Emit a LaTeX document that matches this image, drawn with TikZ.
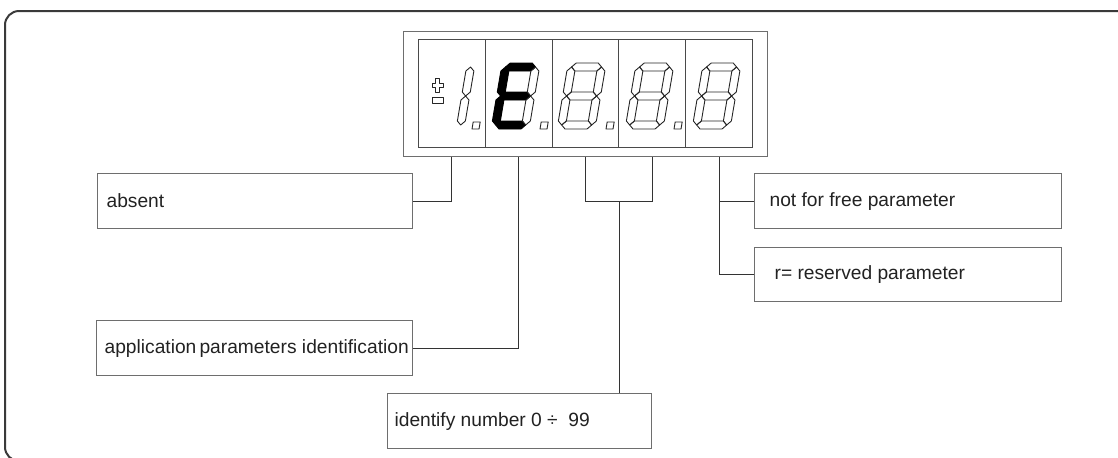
\documentclass[tikz,border=0pt]{standalone}
\usepackage{fontspec}
\setmainfont{Liberation Sans}
\definecolor{framegray}{HTML}{3A3A3A}
\definecolor{boxgray}{HTML}{6E6E6E}
\definecolor{cellgray}{HTML}{4A4A4A}
\definecolor{leadgray}{HTML}{333333}
\definecolor{textgray}{HTML}{222222}
% seven segment outlines, origin at bottom left, y up = negative
\newcommand{\sga}{(4,-62) -- (8,-66) -- (30,-66) -- (34,-62) -- (30,-58) -- (8,-58) -- cycle}
\newcommand{\sgb}{(34,-62) -- (38,-58) -- (38,-37) -- (34,-33) -- (30,-37) -- (30,-58) -- cycle}
\newcommand{\sgc}{(34,-33) -- (38,-29) -- (38,-8) -- (34,-4) -- (30,-8) -- (30,-29) -- cycle}
\newcommand{\sgd}{(4,-4) -- (8,-8) -- (30,-8) -- (34,-4) -- (30,0) -- (8,0) -- cycle}
\newcommand{\sge}{(4,-33) -- (8,-29) -- (8,-8) -- (4,-4) -- (0,-8) -- (0,-29) -- cycle}
\newcommand{\sgf}{(4,-62) -- (8,-58) -- (8,-37) -- (4,-33) -- (0,-37) -- (0,-58) -- cycle}
\newcommand{\sgg}{(4,-33) -- (8,-37) -- (30,-37) -- (34,-33) -- (30,-29) -- (8,-29) -- cycle}
\newcommand{\boxtext}[3]{\makebox[#1][l]{\hspace*{#2}#3}}

\begin{document}
\begin{tikzpicture}[x=0.5pt,y=-0.5pt,
  outerframe/.style={draw=framegray,line width=1pt,rounded corners=7pt},
  dispbox/.style={draw=boxgray,line width=0.6pt,anchor=north west,inner sep=0pt,minimum width=182pt,minimum height=62.5pt},
  cellbox/.style={draw=cellgray,line width=0.5pt,anchor=north west,inner sep=0pt,minimum width=33.4pt,minimum height=54pt},
  infobox/.style={draw=boxgray,line width=0.6pt,anchor=north west,inner sep=0pt,minimum height=27.5pt,text=textgray,font=\fontsize{9.6pt}{11pt}\selectfont},
  leader/.style={draw=leadgray,line width=0.5pt},
  segoff/.style={draw=black!85,line width=0.45pt,line join=round},
  segon/.style={draw=black,fill=black,line width=0.45pt,line join=round}]
\useasboundingbox (0,0) rectangle (1118,457);
\clip (0,0) rectangle (1118,457);
\draw[outerframe] (5,11) rectangle (1130,461);

% display
\node[dispbox] (display) at (403,31) {};
\foreach \i in {1,...,5}
  \node[cellbox] (cell\i) at ({418+66.8*(\i-1)},39) {};

% sign
\draw[segoff] (435.5,78.5) -- (439.5,78.5) -- (439.5,83.5) -- (443,83.5) -- (443,87.5) -- (439.5,87.5) -- (439.5,92) -- (435.5,92) -- (435.5,87.5) -- (432,87.5) -- (432,83.5) -- (435.5,83.5) -- cycle;
\draw[segoff] (432,97.5) rectangle (443,103);

% digit 1
\begin{scope}[shift={(426,129)},xslant=0.17]
  \foreach \s in {b,c} \draw[segoff] \csname sg\s\endcsname;
  \draw[segoff] (46,0) -- (53,0) -- (53,-7) -- (46,-7) -- cycle;
\end{scope}
% digit E
\begin{scope}[shift={(491,129)},xslant=0.17]
  \foreach \s in {a,f,g,e,d} \filldraw[segon] \csname sg\s\endcsname;
  \foreach \s in {b,c} \draw[segoff] \csname sg\s\endcsname;
  \draw[segoff] (49,0) -- (56,0) -- (56,-7) -- (49,-7) -- cycle;
\end{scope}
% digits 8 with point
\foreach \x in {557,625} {
  \begin{scope}[shift={(\x,129)},xslant=0.17]
    \foreach \s in {a,b,c,d,e,f,g} \draw[segoff] \csname sg\s\endcsname;
    \draw[segoff] (49,0) -- (56,0) -- (56,-7) -- (49,-7) -- cycle;
  \end{scope}
}
% last digit
\begin{scope}[shift={(692,129)},xslant=0.17]
  \foreach \s in {a,b,c,d,e,f,g} \draw[segoff] \csname sg\s\endcsname;
\end{scope}

% text boxes
\node[infobox] (absent) at (97,173) {\boxtext{157.5pt}{4.5pt}{absent}};
\node[infobox] (app) at (96,320) {\boxtext{158pt}{4pt}{application\,parameters identification}};
\node[infobox] (ident) at (387,393) {\boxtext{132pt}{3.5pt}{identify number 0 ÷\ \ 99}};
\node[infobox] (notfree) at (754,173) {\boxtext{153.5pt}{7.5pt}{not for free parameter}};
\node[infobox,minimum height=27pt] (reserved) at (754,247) {\boxtext{153.5pt}{10pt}{r= reserved parameter}};

% leaders
\draw[leader] (display.south -| cell1) |- (absent.east);
\draw[leader] (display.south -| cell2) |- (app.east);
\coordinate (brk) at (cell3.east |- absent.east);
\draw[leader] (display.south -| cell3) |- (brk) -| (display.south -| cell4);
\draw[leader] (brk) -- (brk |- ident.north);
\draw[leader] (display.south -| cell5) |- (reserved.west);
\draw[leader] (cell5 |- notfree.west) -- (notfree.west);
\end{tikzpicture}
\end{document}
